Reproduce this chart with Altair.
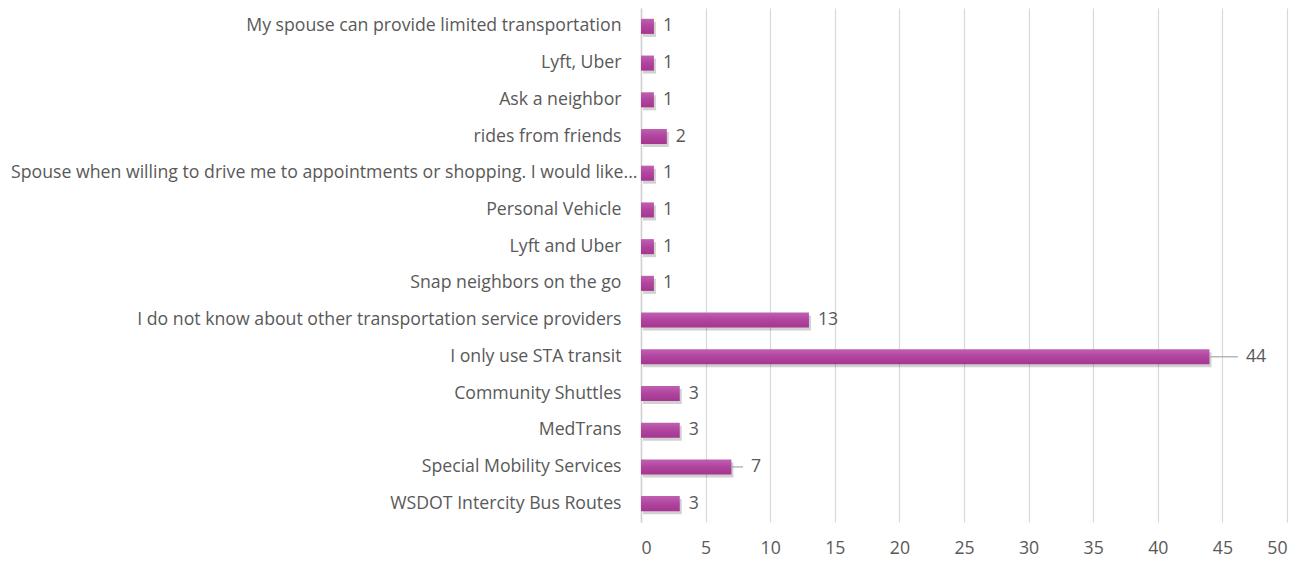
import altair as alt
import pandas as pd

categories = [
    "My spouse can provide limited transportation",
    "Lyft, Uber",
    "Ask a neighbor",
    "rides from friends",
    "Spouse when willing to drive me to appointments or shopping. I would like...",
    "Personal Vehicle",
    "Lyft and Uber",
    "Snap neighbors on the go",
    "I do not know about other transportation service providers",
    "I only use STA transit",
    "Community Shuttles",
    "MedTrans",
    "Special Mobility Services",
    "WSDOT Intercity Bus Routes",
]
values = [1, 1, 1, 2, 1, 1, 1, 1, 13, 44, 3, 3, 7, 3]
x_ticks = [0, 5, 10, 15, 20, 25, 30, 35, 40, 45, 50]

df = pd.DataFrame({"cat": categories, "val": values})
df["label"] = df["val"].astype(str)
df["leader"] = df["val"].isin([7, 44])
df["lead_end"] = df["val"] + df["val"].map({7: 0.9, 44: 2.2}).fillna(0)

FONT = "Open Sans"
FS = 17.7
GREY = "#595959"

y_enc = alt.Y(
    "cat:N",
    sort=categories,
    scale=alt.Scale(paddingInner=0.59, paddingOuter=0.295),
    axis=alt.Axis(
        title=None, labelFontSize=FS, labelColor=GREY, labelFont=FONT,
        labelLimit=640, ticks=False, domainColor="#D0D0D0",
        labelPadding={"condition": {"test": "indexof(datum.label, 'Spouse when') == 0", "value": 4},
                      "value": 20},
        domainWidth=1.5,
    ),
)
x_scale = alt.Scale(domain=[0, 50], nice=False)
x_axis = alt.Axis(
    title=None, values=x_ticks, labelFontSize=FS, labelColor=GREY, labelFont=FONT,
    ticks=False, domain=False, gridColor="#D9D9D9", gridWidth=1.2, labelPadding=17,
)

base = alt.Chart(df)

shadow = base.mark_bar(color="#000000", opacity=0.18, xOffset=2, yOffset=3).encode(
    y=y_enc, x=alt.X("val:Q", scale=x_scale, axis=x_axis)
)

bars = base.mark_bar(
    color=alt.Gradient(
        gradient="linear", x1=0, y1=0, x2=0, y2=1,
        stops=[alt.GradientStop(color="#C060B2", offset=0),
               alt.GradientStop(color="#B0449E", offset=0.5),
               alt.GradientStop(color="#A5368F", offset=1)],
    )
).encode(y=y_enc, x=alt.X("val:Q", scale=x_scale, axis=x_axis))

text_normal = base.transform_filter("!datum.leader").mark_text(
    align="left", dx=9, fontSize=FS, font=FONT, color=GREY
).encode(y=y_enc, x=alt.X("val:Q", scale=x_scale), text="label:N")

leaders = base.transform_filter("datum.leader").mark_rule(
    color="#A6A6A6", strokeWidth=1.2
).encode(y=y_enc, x=alt.X("val:Q", scale=x_scale), x2="lead_end:Q")

text_leader = base.transform_filter("datum.leader").mark_text(
    align="left", dx=8, fontSize=FS, font=FONT, color=GREY
).encode(y=y_enc, x=alt.X("lead_end:Q", scale=x_scale), text="label:N")

chart = alt.layer(shadow, bars, leaders, text_normal, text_leader).properties(
    width=646, height=514,
    autosize=alt.AutoSizeParams(type="none"),
    padding={"left": 633, "top": 0, "right": 10, "bottom": 50},
).configure_view(stroke=None)

chart.save("out.html", embed_options={"renderer": "svg", "actions": False})
